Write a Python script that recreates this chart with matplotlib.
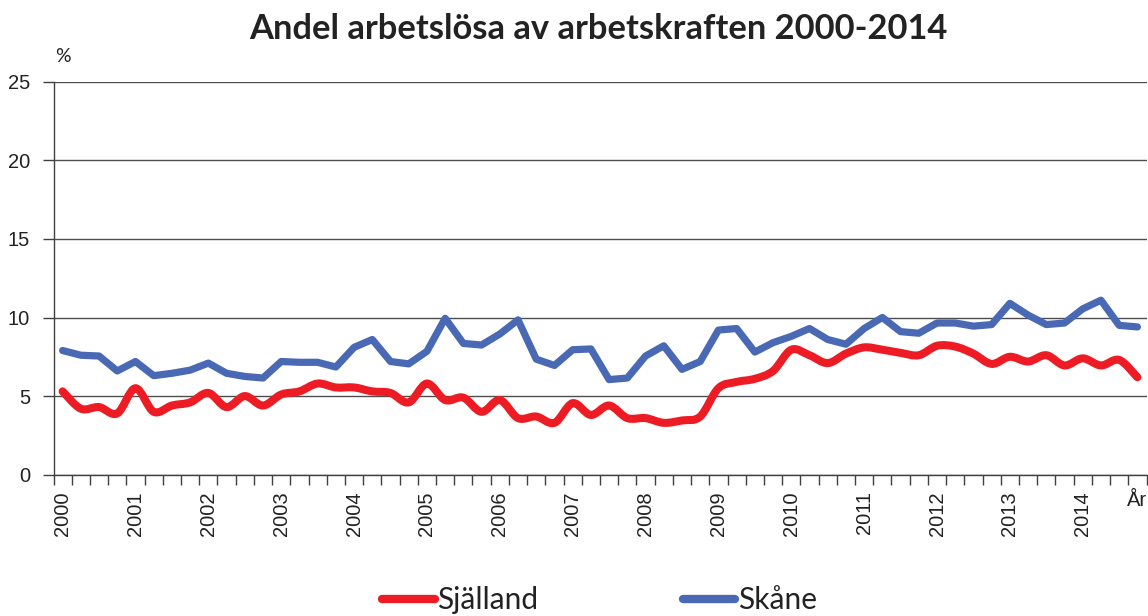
import numpy as np
import matplotlib as mpl
mpl.use('Agg')
import matplotlib.pyplot as plt
from matplotlib.path import Path
from matplotlib.patches import PathPatch
from matplotlib.lines import Line2D

# quarterly values, 2000 Q1 .. 2014 Q4
years = list(range(2000, 2015))
sjalland = [5.3, 4.2, 4.3, 3.9, 5.5, 4.0, 4.4, 4.6, 5.2, 4.3, 5.0, 4.4,
            5.1, 5.3, 5.8, 5.55, 5.55, 5.3, 5.2, 4.6,
            5.8, 4.75, 4.9, 4.0, 4.75, 3.6, 3.7, 3.3, 4.55, 3.8, 4.4, 3.6,
            3.6, 3.3, 3.45, 3.7,
            5.5, 5.9, 6.1, 6.6,
            7.95, 7.6, 7.1, 7.7, 8.1, 7.95, 7.75, 7.6, 8.2, 8.15, 7.7, 7.05,
            7.5, 7.2, 7.6, 6.95, 7.4, 6.95, 7.3, 6.2]
skane = [7.9, 7.6, 7.55, 6.6, 7.2, 6.3, 6.45, 6.65, 7.1, 6.45, 6.25, 6.15,
         7.2, 7.15, 7.15, 6.85, 8.1, 8.6, 7.2, 7.05,
         7.85, 9.95, 8.35, 8.25, 8.95, 9.85, 7.35, 6.95, 7.95, 8.0, 6.05, 6.15,
         7.55, 8.2, 6.7, 7.2,
         9.2, 9.3, 7.8, 8.4,
         8.8, 9.3, 8.6, 8.3, 9.3, 10.0, 9.1, 9.0, 9.65, 9.65, 9.45, 9.55,
         10.9, 10.15, 9.55, 9.65, 10.55, 11.1, 9.5, 9.4]
series_names = ["Själland", "Skåne"]

RED = "#ED1C24"
BLUE = "#4A69B5"
TXT = "#222222"


def smooth_path(x, y):
    # excel-style smoothed line (catmull-rom as bezier segments)
    pts = np.column_stack([x, y]).astype(float)
    n = len(pts)
    verts = [pts[0]]
    codes = [Path.MOVETO]
    for i in range(n - 1):
        p0 = pts[i - 1] if i > 0 else pts[i]
        p1 = pts[i]
        p2 = pts[i + 1]
        p3 = pts[i + 2] if i + 2 < n else pts[i + 1]
        verts += [p1 + (p2 - p0) / 6., p2 - (p3 - p1) / 6., p2]
        codes += [Path.CURVE4] * 3
    return Path(verts, codes)


fig = plt.figure(figsize=(11.48, 6.16), dpi=100)
ax = fig.add_axes([53.5 / 1148, 1 - 474.7 / 616, 1093 / 1148, 393 / 616])

x = np.arange(len(skane))
ax.plot(x, skane, color=BLUE, lw=5.2, solid_joinstyle='round', solid_capstyle='round', zorder=3)
ax.add_patch(PathPatch(smooth_path(x, sjalland), facecolor='none', edgecolor=RED, lw=5.8,
                       capstyle='round', joinstyle='round', zorder=4))

ax.set_xlim(-0.5, len(x) - 0.5)
ax.set_ylim(0, 25)

ax.set_yticks(range(0, 26, 5))
ax.yaxis.grid(True, color='#4d4d4d', lw=1.0)
ax.set_axisbelow(True)

# labels on category centers, tick marks on category borders
lab_pos = [4 * (yr - 2000) for yr in years] + [len(x) - 1]
ax.set_xticks(lab_pos)
ax.set_xticklabels([str(yr) for yr in years] + ["År"])
ax.set_xticks(np.arange(-0.5, len(x)), minor=True)
ax.tick_params(axis='x', which='major', length=0, pad=12, rotation=90)
ax.tick_params(axis='x', which='minor', length=7, width=1, color='#404040', direction='out')
ax.tick_params(axis='y', length=8, width=1, color='#404040', pad=9)
for lbl in ax.get_xticklabels() + ax.get_yticklabels():
    lbl.set_fontfamily('Liberation Sans')
    lbl.set_fontsize(14.5)
    lbl.set_color(TXT)
ar = ax.get_xticklabels()[-1]
ar.set_rotation(0)

for side in ['top', 'right']:
    ax.spines[side].set_visible(False)
for side in ['left', 'bottom']:
    ax.spines[side].set_color('#404040')
    ax.spines[side].set_linewidth(1.0)

fig.text(598 / 1148, 1 - 29 / 616, "Andel arbetslösa av arbetskraften 2000-2014",
         ha='center', va='center', fontsize=24.8, fontweight='bold', family='Lato', color=TXT)
fig.text(63 / 1148, 1 - 57 / 616, "%", ha='center', va='center', fontsize=14, family='Lato', color=TXT)

handles = [Line2D([], [], color=RED, lw=6, solid_capstyle='round'),
           Line2D([], [], color=BLUE, lw=6, solid_capstyle='round')]
fig.legend(handles, series_names, loc='center', bbox_to_anchor=(599.5 / 1148, 1 - 600 / 616),
           ncol=2, frameon=False, prop={'family': 'Lato', 'size': 21.5},
           handlelength=1.75, handletextpad=0.08, columnspacing=4.85, labelcolor=TXT)

fig.savefig("out.png", dpi=100)
